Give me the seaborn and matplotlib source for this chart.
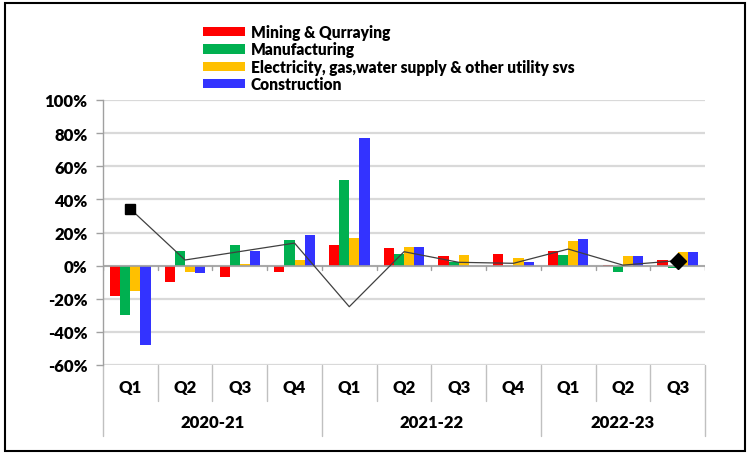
import numpy as np
import pandas as pd
import matplotlib
matplotlib.use("Agg")
import matplotlib.pyplot as plt
import seaborn as sns
from matplotlib.patches import Rectangle
from matplotlib.ticker import FuncFormatter

quarters = ["Q1", "Q2", "Q3", "Q4", "Q1", "Q2", "Q3", "Q4", "Q1", "Q2", "Q3"]
years = ["2020-21", "2021-22", "2022-23"]
year_sizes = [4, 4, 3]
sectors = ["Mining & Qurraying", "Manufacturing",
           "Electricity, gas,water supply & other utility svs", "Construction"]
mining = [-18.4, -9.8, -7.0, -3.8, 12.6, 10.8, 5.8, 7.0, 9.0, 0.2, 3.6]
manufacturing = [-29.8, 8.8, 12.4, 15.4, 51.6, 6.8, 2.0, 0.0, 6.2, -3.8, -1.4]
electricity = [-15.3, -4.0, 0.8, 3.2, 16.6, 11.2, 6.4, 4.6, 14.8, 5.8, 8.2]
construction = [-47.8, -4.6, 8.8, 18.6, 77.0, 11.2, 0.0, 2.4, 16.2, 5.7, 8.4]
overall = [34.2, 3.4, 8.5, 13.6, -24.8, 8.4, 2.0, 1.4, 10.0, 0.3, 3.0]
colors = ["#FF0000", "#00B050", "#FFC000", "#3333FF"]

periods = [f"{q}_{i}" for i, q in enumerate(quarters)]
series = [mining, manufacturing, electricity, construction]
rows = []
for s, vals in zip(sectors, series):
    for p, v in zip(periods, vals):
        rows.append({"period": p, "sector": s, "value": v / 100})
df = pd.DataFrame(rows)

sns.set_theme(style="white")
plt.rcParams["font.family"] = ["Lato", "DejaVu Sans"]

fig = plt.figure(figsize=(7.48, 4.56), dpi=100)
W, H = 748, 456
ax = fig.add_axes([103 / W, 1 - 366 / H, (705 - 103) / W, (366 - 101) / H])

sns.barplot(data=df, x="period", y="value", hue="sector", order=periods,
            hue_order=sectors, palette=colors, width=0.74, ax=ax,
            saturation=1, edgecolor="none", linewidth=0)
handles, labels = ax.get_legend_handles_labels()
ax.get_legend().remove()

xs = np.arange(len(periods))
ov = np.array(overall) / 100
ax.plot(xs, ov, color="#404040", linewidth=0.9, zorder=5)
ax.plot(xs[:1], ov[:1], marker="s", color="black", markersize=7.5, linestyle="none", zorder=6)
ax.plot(xs[-1:], ov[-1:], marker="D", color="black", markersize=8, linestyle="none", zorder=6)

ax.set_ylim(-0.6, 1.0)
ax.set_xlim(-0.5, len(periods) - 0.5)
ax.set_yticks(np.arange(-0.6, 1.01, 0.2))
ax.yaxis.set_major_formatter(FuncFormatter(lambda v, p: f"{v*100:.0f}%"))
for lab in ax.get_yticklabels():
    lab.set_fontweight("heavy")
    lab.set_fontsize(12)
    lab.set_color("black")
ax.tick_params(axis="y", left=True, length=5, color="#A0A0A0", width=1, pad=6)
ax.set_xticks([])
ax.set_xlabel("")
ax.set_ylabel("")
ax.grid(axis="y", color="#D9D9D9", linewidth=1.6, zorder=0)
ax.set_axisbelow(True)
for s in ["top", "right", "bottom"]:
    ax.spines[s].set_visible(False)
ax.spines["left"].set_color("#A0A0A0")
ax.spines["left"].set_linewidth(1)

# zero axis line with category ticks
ax.axhline(0, color="#A0A0A0", linewidth=1.2, zorder=4)
for b in np.arange(-0.5, len(periods) + 0.5, 1):
    ax.plot([b, b], [0, -0.025], color="#A0A0A0", linewidth=1, zorder=4)

# category table below axes
trans = ax.get_xaxis_transform()
q_sep_bottom = -36 / 265
y_sep_bottom = -71 / 265
for i, q in enumerate(quarters):
    ax.text(i, -22 / 265, q, transform=trans, ha="center", va="center",
            fontsize=12, fontweight="heavy", color="black")
bounds = np.cumsum([0] + year_sizes) - 0.5
for b in np.arange(-0.5, len(periods) + 0.5, 1):
    bottom = y_sep_bottom if b in bounds else q_sep_bottom
    ax.plot([b, b], [0, bottom], transform=trans, color="#C0C0C0",
            linewidth=1, clip_on=False)
for k, y in enumerate(years):
    c = (bounds[k] + bounds[k + 1]) / 2
    ax.text(c, -57 / 265, y, transform=trans, ha="center", va="center",
            fontsize=12, fontweight="heavy", color="black")

leg = fig.legend(handles, labels, loc="upper left", bbox_to_anchor=(197 / W, 1 - 19 / H),
                 frameon=False, fontsize=11.2, handlelength=2.7, handleheight=0.55,
                 labelspacing=0.08, handletextpad=0.35, borderaxespad=0)
for t in leg.get_texts():
    t.set_fontweight("heavy")
    t.set_color("black")

fig.patches.append(Rectangle((5 / W, 4 / H), 740 / W, 448 / H, transform=fig.transFigure,
                             fill=False, edgecolor="black", linewidth=1.5))

fig.savefig("out.png", dpi=100)
